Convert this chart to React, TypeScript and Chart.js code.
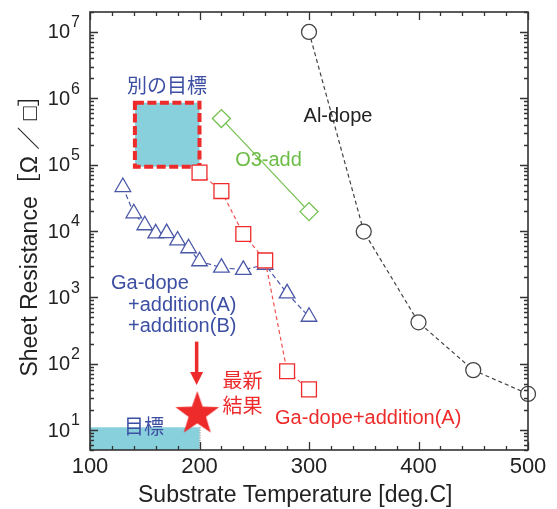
import React, { useEffect, useRef } from "react";
import { Chart, registerables } from "chart.js";
Chart.register(...registerables);

// ---- data ----
const TEMP_AL = [300, 350, 400, 450, 500];
const RES_AL = [1.0e7, 9.8e3, 420, 80, 35];

const TEMP_GA_A = [200, 220, 240, 260, 280, 300];
const RES_GA_A = [7.6e4, 4.0e4, 9.0e3, 3.6e3, 77, 41];

const TEMP_GA_AB = [130, 140, 150, 160, 170, 180, 190, 200, 220, 240, 260, 280, 300];
const RES_GA_AB = [4.6e4, 1.85e4, 1.22e4, 9.2e3, 9.3e3, 7.2e3, 5.5e3, 3.5e3, 2.8e3, 2.6e3, 3.1e3, 1.15e3, 510];

const TEMP_O3 = [220, 300];
const RES_O3 = [4.95e5, 1.96e4];

const TEMP_LATEST = [198];
const RES_LATEST = [18];

// annotation regions (data units)
const TARGET_X = [100, 200];
const TARGET_Y = [5, 11];
const ALT_TARGET_X = [141, 200];
const ALT_TARGET_Y = [9.3e4, 8.6e5];
const ARROW_X = 197.4;
const ARROW_Y = [215, 47.7];

const X_TICKS = [100, 200, 300, 400, 500];
const Y_EXPONENTS = [1, 2, 3, 4, 5, 6, 7];

const X_TITLE = "Substrate Temperature [deg.C]";
const Y_TITLE = "Sheet Resistance［Ω ／ □］";

const LABELS = [
  { text: "別の目標", x: 170.3, y: 1.48e6, color: "#3d4fa3", align: "center" },
  { text: "Al-dope", x: 326.5, y: 5.4e5, color: "#222222", align: "center" },
  { text: "O3-add", x: 263, y: 1.17e5, color: "#6cbd45", align: "center" },
  { text: "Ga-dope", x: 119.2, y: 1640, color: "#3d4fa3", align: "left" },
  { text: "+addition(A)", x: 134.7, y: 767, color: "#3d4fa3", align: "left" },
  { text: "+addition(B)", x: 134.7, y: 370, color: "#3d4fa3", align: "left" },
  { text: "最新", x: 239.3, y: 51.2, color: "#ee2b2b", align: "center" },
  { text: "結果", x: 239.3, y: 21.5, color: "#ee2b2b", align: "center" },
  { text: "Ga-dope+addition(A)", x: 269, y: 14.7, color: "#ee2b2b", align: "left" },
  { text: "目標", x: 149.3, y: 10.4, color: "#3d4fa3", align: "center" },
];

// ---- styles ----
const FONT = '"Liberation Sans", Arial, "Noto Sans CJK JP", sans-serif';
const RED = "#ee2b2b";
const BLUE = "#4a58a8";
const GREEN = "#72c04c";
const DARK = "#444444";
const TEAL = "#88d0dc";
const AREA = { left: 90, top: 12, right: 528, bottom: 450 };

function makeStar(): HTMLCanvasElement {
  const c = document.createElement("canvas");
  c.width = 48;
  c.height = 48;
  const g = c.getContext("2d")!;
  const cx = 24, cy = 25, R = 23, r = 9.2;
  g.beginPath();
  for (let i = 0; i < 10; i++) {
    const a = -Math.PI / 2 + (i * Math.PI) / 5;
    const rr = i % 2 === 0 ? R : r;
    const px = cx + rr * Math.cos(a), py = cy + rr * Math.sin(a);
    if (i === 0) g.moveTo(px, py); else g.lineTo(px, py);
  }
  g.closePath();
  g.fillStyle = RED;
  g.fill();
  return c;
}

const pts = (xs: number[], ys: number[]) => xs.map((x, i) => ({ x, y: ys[i] }));

const overlay = {
  id: "overlay",
  beforeDatasetsDraw(chart: any) {
    const { ctx, scales } = chart;
    const xs = scales.x, ys = scales.y;
    ctx.save();
    const tx0 = xs.getPixelForValue(TARGET_X[0]);
    const tx1 = xs.getPixelForValue(TARGET_X[1]);
    const ty0 = ys.getPixelForValue(TARGET_Y[0]);
    const ty1 = ys.getPixelForValue(TARGET_Y[1]);
    ctx.fillStyle = TEAL;
    ctx.fillRect(tx0, ty1, tx1 - tx0, ty0 - ty1);
    ctx.setLineDash([1, 1.5]);
    ctx.strokeStyle = "#666";
    ctx.lineWidth = 1;
    ctx.beginPath();
    ctx.moveTo(tx1 + 0.5, ty1);
    ctx.lineTo(tx1 + 0.5, ty0);
    ctx.stroke();
    const ax0 = xs.getPixelForValue(ALT_TARGET_X[0]);
    const ax1 = xs.getPixelForValue(ALT_TARGET_X[1]);
    const ay0 = ys.getPixelForValue(ALT_TARGET_Y[0]);
    const ay1 = ys.getPixelForValue(ALT_TARGET_Y[1]);
    ctx.fillStyle = TEAL;
    ctx.fillRect(ax0, ay1, ax1 - ax0, ay0 - ay1);
    ctx.setLineDash([9, 3.5]);
    ctx.lineWidth = 4;
    ctx.strokeStyle = RED;
    ctx.strokeRect(ax0, ay1, ax1 - ax0, ay0 - ay1);
    ctx.restore();
  },
  afterDatasetsDraw(chart: any) {
    const { ctx, scales, chartArea } = chart;
    const xs = scales.x, ys = scales.y;
    const { left, right, top, bottom } = chartArea;
    ctx.save();
    ctx.setLineDash([]);
    ctx.strokeStyle = "#333";
    ctx.lineWidth = 1.6;
    ctx.strokeRect(left, top, right - left, bottom - top);
    ctx.lineWidth = 1.3;
    ctx.beginPath();
    for (let v = 100; v <= 500; v += 20) {
      const px = Math.round(xs.getPixelForValue(v)) + 0.5;
      const len = v % 100 === 0 ? 8 : 4;
      ctx.moveTo(px, bottom);
      ctx.lineTo(px, bottom - len);
      ctx.moveTo(px, top);
      ctx.lineTo(px, top + len);
    }
    for (let e = 0; e <= 7; e++) {
      for (let m = 1; m <= 9; m++) {
        const v = m * Math.pow(10, e);
        if (v < ys.min || v > ys.max) continue;
        const py = Math.round(ys.getPixelForValue(v)) + 0.5;
        const len = m === 1 ? 8 : 4;
        ctx.moveTo(left, py);
        ctx.lineTo(left + len, py);
        ctx.moveTo(right, py);
        ctx.lineTo(right - len, py);
      }
    }
    ctx.stroke();

    ctx.fillStyle = "#222";
    for (const e of Y_EXPONENTS) {
      const py = ys.getPixelForValue(Math.pow(10, e));
      ctx.font = `20px ${FONT}`;
      ctx.textAlign = "right";
      ctx.textBaseline = "middle";
      ctx.fillText("10", left - 20, py + 1);
      ctx.font = `16px ${FONT}`;
      ctx.textAlign = "left";
      ctx.fillText(String(e), left - 19, py - 9);
    }

    ctx.font = `23px ${FONT}`;
    ctx.textAlign = "left";
    ctx.textBaseline = "middle";
    ctx.fillStyle = "#222";
    ctx.fillText(X_TITLE, 138, 496);
    ctx.save();
    ctx.translate(31, 230);
    ctx.rotate(-Math.PI / 2);
    ctx.textAlign = "center";
    ctx.fillText(Y_TITLE, 0, 0);
    ctx.restore();

    ctx.font = `20px ${FONT}`;
    ctx.textBaseline = "middle";
    for (const l of LABELS) {
      ctx.fillStyle = l.color;
      ctx.textAlign = l.align as CanvasTextAlign;
      ctx.fillText(l.text, xs.getPixelForValue(l.x), ys.getPixelForValue(l.y));
    }

    const axp = xs.getPixelForValue(ARROW_X);
    const ya = ys.getPixelForValue(ARROW_Y[0]);
    const yb = ys.getPixelForValue(ARROW_Y[1]);
    ctx.strokeStyle = RED;
    ctx.fillStyle = RED;
    ctx.lineWidth = 3.5;
    ctx.beginPath();
    ctx.moveTo(axp, ya);
    ctx.lineTo(axp, yb - 10);
    ctx.stroke();
    ctx.beginPath();
    ctx.moveTo(axp - 6.5, yb - 13);
    ctx.lineTo(axp + 6.5, yb - 13);
    ctx.lineTo(axp, yb);
    ctx.closePath();
    ctx.fill();
    ctx.restore();
  },
};

export default function App() {
  const ref = useRef<HTMLCanvasElement>(null);
  useEffect(() => {
    if (!ref.current) return;
    const star = makeStar();
    const common = { showLine: true, clip: false as any, pointBackgroundColor: "#ffffff", pointBorderWidth: 1.3, borderWidth: 1.2 };
    const chart = new Chart(ref.current, {
      type: "line",
      data: {
        datasets: [
          { ...common, label: "Latest", data: pts(TEMP_LATEST, RES_LATEST), pointStyle: star as any, pointRadius: 24, showLine: false, pointBackgroundColor: RED, borderColor: RED },
          { ...common, label: "Al-dope", data: pts(TEMP_AL, RES_AL), borderColor: DARK, pointBorderColor: DARK, borderDash: [4, 3], pointStyle: "circle", pointRadius: 7.5 },
          { ...common, label: "O3-add", data: pts(TEMP_O3, RES_O3), borderColor: GREEN, pointBorderColor: GREEN, pointStyle: "rectRot", pointRadius: 9 },
          { ...common, label: "Ga-dope+addition(A)", data: pts(TEMP_GA_A, RES_GA_A), borderColor: "#f05050", pointBorderColor: RED, borderDash: [4, 3], pointStyle: "rect", pointRadius: 10.5 },
          { ...common, label: "Ga-dope+addition(A)+addition(B)", data: pts(TEMP_GA_AB, RES_GA_AB), borderColor: BLUE, pointBorderColor: BLUE, borderDash: [5, 3], pointStyle: "triangle", pointRadius: 9 },
        ],
      },
      options: {
        animation: false,
        responsive: false,
        events: [],
        layout: { autoPadding: false, padding: { top: AREA.top, right: 557 - AREA.right, left: 0, bottom: 0 } },
        plugins: { legend: { display: false }, tooltip: { enabled: false } },
        scales: {
          x: {
            type: "linear",
            min: 100,
            max: 500,
            grid: { display: false, drawTicks: false },
            border: { display: false },
            ticks: {
              stepSize: 100,
              padding: 4,
              color: "#222",
              font: { size: 22, family: FONT },
              callback: (v: any) => (X_TICKS.includes(Number(v)) ? String(v) : ""),
            },
            afterFit: (s: any) => { s.height = 509 - AREA.bottom; },
          },
          y: {
            type: "logarithmic",
            min: 5,
            max: 2e7,
            grid: { display: false, drawTicks: false },
            border: { display: false },
            ticks: { display: false },
            afterFit: (s: any) => { s.width = AREA.left; },
          },
        },
      },
      plugins: [overlay],
    });
    return () => chart.destroy();
  }, []);
  return (
    <div style={{ position: "fixed", left: 0, top: 0, width: 557, height: 509, background: "#fff" }}>
      <canvas ref={ref} width={557} height={509} />
    </div>
  );
}
